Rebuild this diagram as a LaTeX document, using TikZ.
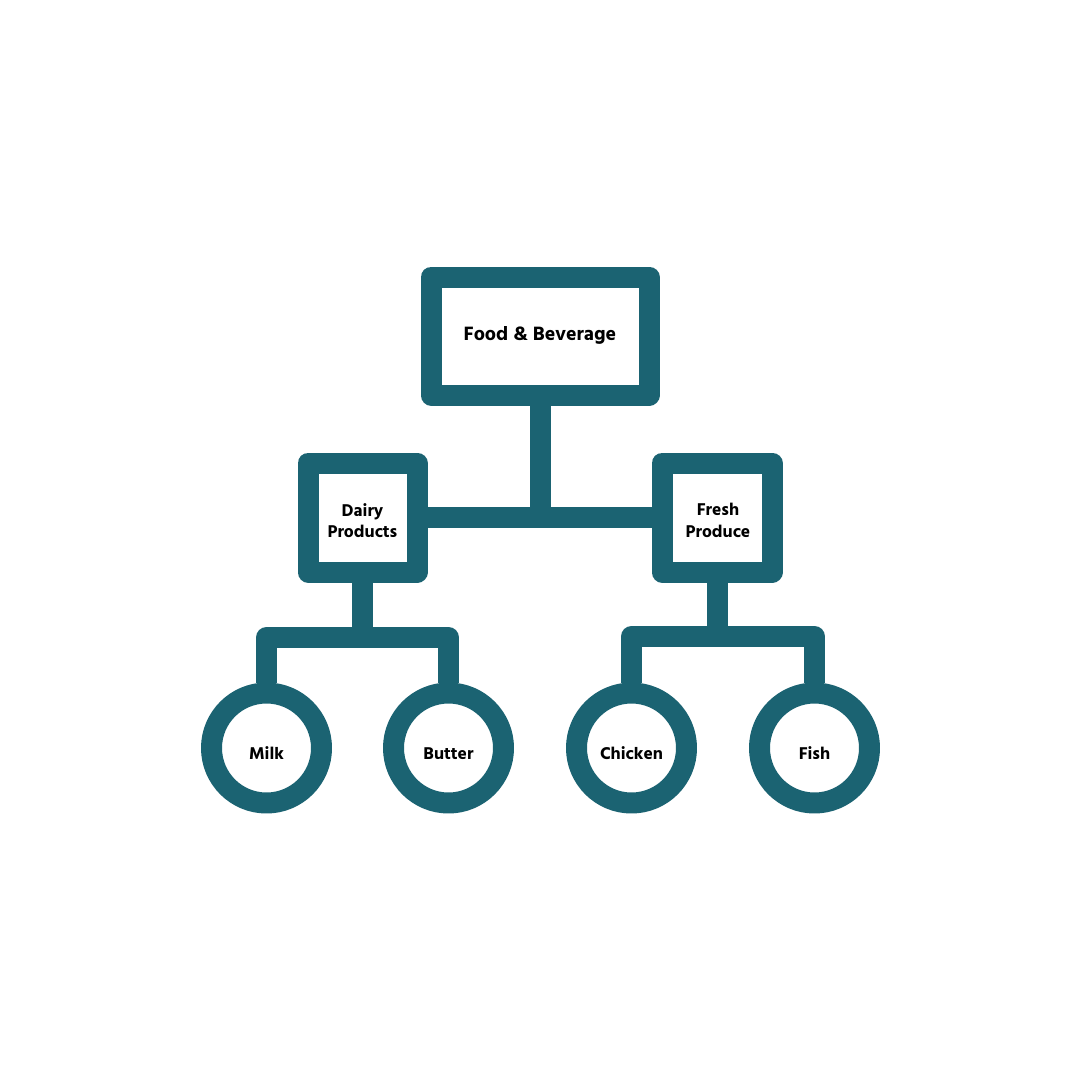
\documentclass[tikz,border=0pt]{standalone}
\usepackage{fontspec}
\setmainfont{Hind Siliguri}[BoldFont={Hind Siliguri Bold}]
\definecolor{teal1}{HTML}{1B6372}
\begin{document}
\begin{tikzpicture}[x=1pt,y=-1pt,
  shp/.style={draw=teal1, line width=21pt, line join=round, fill=white, inner sep=0pt},
  txt/.style={font=\bfseries\fontsize{17.5}{21.5}\selectfont, align=center, inner sep=0pt},
  boxnode/.style={shp, rectangle},
  circnode/.style={shp, circle, minimum size=110pt},
  link/.style={draw=teal1, line width=21pt, line join=round}]
\useasboundingbox[fill=white] (0,0) rectangle (1080,1080);
\coordinate (dbar) at (362.5,637.5);
\coordinate (fbar) at (717,636.5);
\node[boxnode, minimum width=218pt, minimum height=118pt,
  label={[txt, font=\bfseries\fontsize{19.8}{24}\selectfont, yshift=1pt]center:Food \& Beverage}] (top) at (540,336) {};
\node[boxnode, minimum width=109pt, minimum height=109pt,
  label={[txt, yshift=-3pt]center:Dairy\\Products}] (dairy) at (362.5,517.5) {};
\node[boxnode, minimum width=110pt, minimum height=109pt,
  label={[txt, yshift=-3pt, xshift=1pt]center:Fresh\\Produce}] (fresh) at (717,517.5) {};
\node[circnode, label={[txt, yshift=-5pt]center:\vphantom{Mk}Milk}] (milk) at (266.5,748) {};
\node[circnode, label={[txt, yshift=-5pt]center:\vphantom{Mk}Butter}] (butter) at (448.5,748) {};
\node[circnode, label={[txt, yshift=-5pt]center:\vphantom{Mk}Chicken}] (chicken) at (631.5,748) {};
\node[circnode, label={[txt, yshift=-5pt]center:\vphantom{Mk}Fish}] (fish) at (814.5,748) {};
\draw[link] (top.south) -- (top.south |- dairy.east);
\draw[link] (dairy.east) -- (fresh.west);
\draw[link] (dairy.south) -- (dbar);
\draw[link] (milk.north) |- (dbar) -| (butter.north);
\draw[link] (fresh.south) -- (fbar);
\draw[link] (chicken.north) |- (fbar) -| (fish.north);
\end{tikzpicture}
\end{document}
